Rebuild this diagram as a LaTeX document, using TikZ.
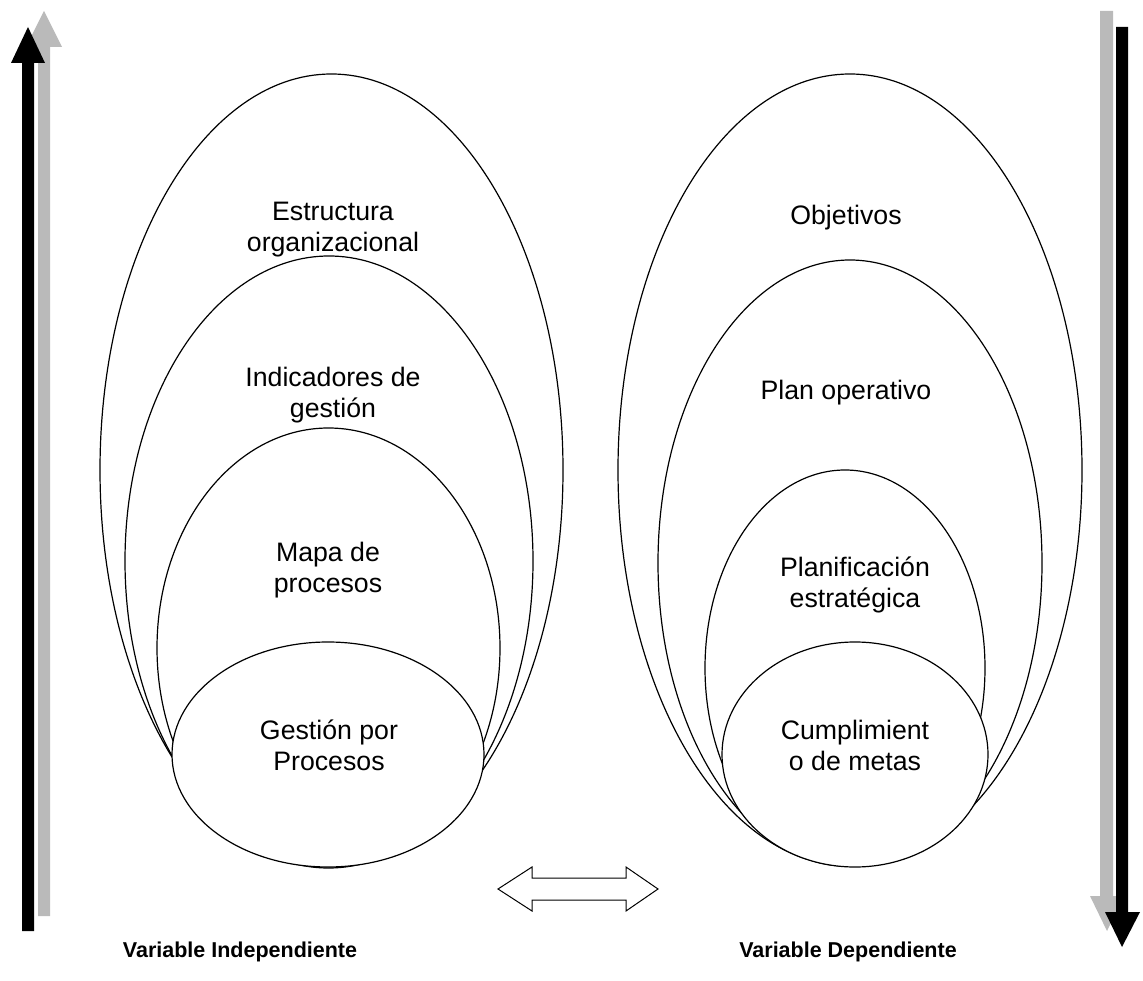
\documentclass[tikz,border=0pt]{standalone}
\usepackage{fontspec}
\setmainfont{Liberation Sans}
\usetikzlibrary{shapes.geometric}
\begin{document}
\begin{tikzpicture}[x=1pt,y=-1pt,
  oval/.style={ellipse, draw, fill=white, line width=1.2pt, inner sep=0pt, outer sep=0pt},
  lbl/.style={align=center, inner sep=0pt, font=\fontsize{26.7}{31}\selectfont},
  vlabel/.style={inner sep=0pt, font=\bfseries\fontsize{21.5}{25}\selectfont},
  grayarrow/.style={fill=black!27},
  blackarrow/.style={fill=black},
  dblarrow/.style={draw, fill=white, line width=1pt, line join=miter}]
\useasboundingbox (0,0) rectangle (1143,981);
% left side ellipses
\node[oval, minimum width=463pt, minimum height=792pt] (L1) at (331.5,470) {};
\node[oval, minimum width=408pt, minimum height=610pt] (L2) at (329,561) {};
\node[oval, minimum width=343pt, minimum height=440pt] (L3) at (328.5,648) {};
\node[oval, minimum width=312pt, minimum height=225pt] (L4) at (328,754.5) {};
% right side ellipses
\node[oval, minimum width=464pt, minimum height=792pt] (R1) at (850,470) {};
\node[oval, minimum width=384pt, minimum height=606pt] (R2) at (850,563) {};
\node[oval, minimum width=280pt, minimum height=396pt] (R3) at (845,668) {};
\node[oval, minimum width=266pt, minimum height=225pt] (R4) at (855,754.5) {};
% texts
\node[lbl] (tL1) at (333,230) {Estructura\\organizacional};
\node[lbl] (tL2) at (333,395) {Indicadores de\\gesti\'on};
\node[lbl] (tL3) at (328,570) {Mapa de\\procesos};
\node[lbl] (tL4) at (329,745) {Gesti\'on por\\Procesos};
\node[lbl] (tR1) at (846,218) {Objetivos};
\node[lbl] (tR2) at (846,393) {Plan operativo};
\node[lbl] (tR3) at (855,585) {Planificaci\'on\\estrat\'egica};
\node[lbl] (tR4) at (855,745) {Cumplimient\\o de metas};
% side arrows
\fill[grayarrow] (38,916) -- (38,47) -- (26,47) -- (44,11) -- (62,47) -- (50,47) -- (50,916) -- cycle;
\fill[blackarrow] (22,931) -- (22,63) -- (11,63) -- (28,27) -- (45,63) -- (34,63) -- (34,931) -- cycle;
\fill[grayarrow] (1100,11) -- (1100,896) -- (1090,896) -- (1107,931) -- (1124,896) -- (1113,896) -- (1113,11) -- cycle;
\fill[blackarrow] (1116,27) -- (1116,912) -- (1105,912) -- (1122,947) -- (1140,912) -- (1128,912) -- (1128,27) -- cycle;
% double arrow
\draw[dblarrow] (498,889) -- (532,867) -- (532,878) -- (626,878) -- (626,867) -- (658,889) -- (626,911) -- (626,900) -- (532,900) -- (532,911) -- cycle;
% variable labels
\node[vlabel] (vI) at (240,952) {Variable Independiente};
\node[vlabel] (vD) at (848,952) {Variable Dependiente};
\end{tikzpicture}
\end{document}
